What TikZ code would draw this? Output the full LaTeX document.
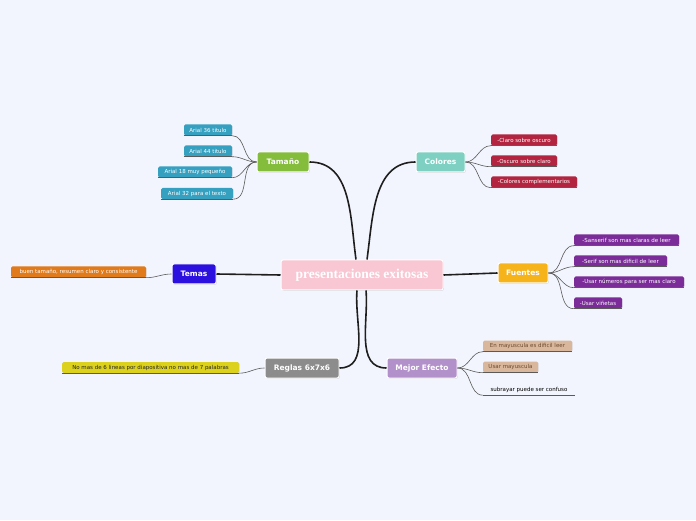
\documentclass[tikz,border=0pt]{standalone}
\usepackage{fontspec}
\setmainfont{DejaVu Sans}
\newfontfamily\serifb{Liberation Serif}
\usetikzlibrary{shadows}
\definecolor{bgc}{HTML}{F2F5FD}
\definecolor{ctam}{HTML}{84BC3C}
\definecolor{ccol}{HTML}{7ED0C2}
\definecolor{cfue}{HTML}{F6B31A}
\definecolor{ctem}{HTML}{2B10E0}
\definecolor{creg}{HTML}{8C8C8C}
\definecolor{cmej}{HTML}{B291CA}
\definecolor{ccen}{HTML}{F9C6D3}
\definecolor{sblue}{HTML}{35A0C0}
\definecolor{sred}{HTML}{B22440}
\definecolor{spur}{HTML}{7B2C99}
\definecolor{sora}{HTML}{E07A1A}
\definecolor{syel}{HTML}{DCD21E}
\definecolor{stan}{HTML}{D9B79C}
\definecolor{ttan}{HTML}{6B4A30}
\definecolor{linec}{HTML}{1E1E1E}
\definecolor{subline}{HTML}{5A5A5A}
\tikzset{
  topic/.style={draw=white, line width=1pt, rounded corners=2pt, minimum height=20pt, inner sep=0pt,
    text=white, font=\fontsize{7.5}{8}\selectfont\bfseries,
    drop shadow={opacity=0.25, shadow xshift=0.8pt, shadow yshift=-0.8pt}},
  sub/.style={rounded corners=1.5pt, minimum height=11pt, inner sep=0pt, text=white,
    font=\fontsize{5.5}{6}\selectfont,
    drop shadow={opacity=0.2, shadow xshift=0.6pt, shadow yshift=-0.6pt}},
  mainline/.style={draw=linec, line width=1.6pt},
  subconn/.style={draw=subline, line width=0.6pt},
  uline/.style={draw=subline, line width=0.8pt},
}
\begin{document}
\begin{tikzpicture}[x=1pt,y=1pt]
\fill[bgc] (0,0) rectangle (696,520);
\useasboundingbox (0,0) rectangle (696,520);

% central
\node[topic, fill=ccen, minimum width=162pt, minimum height=30pt, font=\serifb\fontsize{13.5}{15}\selectfont\bfseries] (c) at (362,245) {presentaciones exitosas};

% main topics
\node[topic, fill=ctam, minimum width=52pt] (tam) at (283,358) {Tamaño};
\node[topic, fill=ccol, minimum width=49pt] (col) at (440.5,358) {Colores};
\node[topic, fill=cfue, minimum width=50pt] (fue) at (523,247) {Fuentes};
\node[topic, fill=ctem, minimum width=44pt] (tem) at (194,246) {Temas};
\node[topic, fill=creg, minimum width=74pt] (reg) at (302,152) {Reglas 6x7x6};
\node[topic, fill=cmej, minimum width=70pt] (mej) at (422,152) {Mejor Efecto};

% main connectors
\draw[mainline] ([xshift=-6pt]c.north) to[out=98,in=0] (tam.east);
\draw[mainline] ([xshift=5pt]c.north) to[out=82,in=180] (col.west);
\draw[mainline] (c.east) -- (fue.west);
\draw[mainline] (c.west) -- (tem.east);
\draw[mainline] ([xshift=-5pt]c.south) to[out=-95,in=0] (reg.east);
\draw[mainline] ([xshift=4pt]c.south) to[out=-85,in=180] (mej.west);

% Tamano children
\node[sub, fill=sblue, minimum width=48pt] (t1) at (208,390) {Arial 36 titulo};
\node[sub, fill=sblue, minimum width=48pt] (t2) at (208,369) {Arial 44 titulo};
\node[sub, fill=sblue, minimum width=74pt] (t3) at (195,348) {Arial 18 muy pequeño};
\node[sub, fill=sblue, minimum width=72pt] (t4) at (197,326.5) {Arial 32 para el texto};
\foreach \n in {t1,t2,t3,t4}{
  \draw[subconn] (tam.west) to[out=180,in=0] (\n.south east);
  \draw[uline] (\n.south west) -- (\n.south east);
}

% Colores children
\node[sub, fill=sred, minimum width=66pt] (k1) at (524,380) {-Claro sobre oscuro};
\node[sub, fill=sred, minimum width=66pt] (k2) at (524,359) {-Oscuro sobre claro};
\node[sub, fill=sred, minimum width=86pt] (k3) at (534,338) {-Colores complementarios};
\foreach \n in {k1,k2,k3}{
  \draw[subconn] (col.east) to[out=0,in=180] (\n.south west);
  \draw[uline] (\n.south west) -- (\n.south east);
}

% Fuentes children
\node[sub, fill=spur, minimum width=105pt] (f1) at (626.5,280) {-Sanserif son mas claras de leer};
\node[sub, fill=spur, minimum width=93pt] (f2) at (620.5,259) {-Serif son mas dificil de leer};
\node[sub, fill=spur, minimum width=110pt] (f3) at (629,238) {-Usar números para ser mas claro};
\node[sub, fill=spur, minimum width=48pt] (f4) at (598,217) {-Usar viñetas};
\foreach \n in {f1,f2,f3,f4}{
  \draw[subconn] (fue.east) to[out=0,in=180] (\n.south west);
  \draw[uline] (\n.south west) -- (\n.south east);
}

% Temas child
\node[sub, fill=sora, minimum width=135pt] (m1) at (78.5,248) {buen tamaño, resumen claro y consistente};
\draw[subconn] (tem.west) to[out=180,in=0] (m1.south east);
\draw[uline] (m1.south west) -- (m1.south east);

% Reglas child
\node[sub, fill=syel, text=black!85, minimum width=177pt] (r1) at (150.5,152.5) {No mas de 6 lineas por diapositiva no mas de 7 palabras};
\draw[subconn] (reg.west) to[out=180,in=0] (r1.south east);
\draw[uline] (r1.south west) -- (r1.south east);

% Mejor Efecto children
\node[sub, fill=stan, text=ttan, minimum width=89pt] (e1) at (527.5,174) {En mayuscula es dificil leer};
\node[sub, fill=stan, text=ttan, minimum width=55pt] (e2) at (510.5,153) {Usar mayuscula};
\node[minimum width=92pt, minimum height=11pt, inner sep=0pt, text=black, font=\fontsize{5.5}{6}\selectfont] (e3) at (529,130.5) {subrayar puede ser confuso};
\foreach \n in {e1,e2,e3}{
  \draw[subconn] (mej.east) to[out=0,in=180] (\n.south west);
  \draw[uline] (\n.south west) -- (\n.south east);
}
\end{tikzpicture}
\end{document}
